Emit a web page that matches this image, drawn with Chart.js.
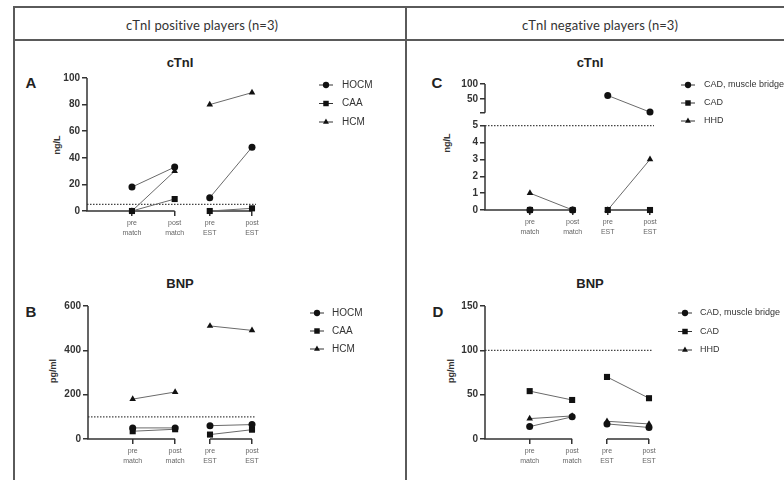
<!DOCTYPE html>
<html>
<head>
<meta charset="utf-8">
<script src="https://cdn.jsdelivr.net/npm/chart.js@4.4.0/dist/chart.umd.min.js"></script>
<style>
  html, body { margin: 0; padding: 0; background: #fff; }
  #fig { position: relative; width: 784px; height: 480px; overflow: hidden; font-family: "Liberation Sans", Arial, sans-serif; color: #222; }
  .rule { position: absolute; background: #5a5a5a; }
  .head { position: absolute; font-family: Lato, sans-serif; font-size: 13px; color: #333; transform: translate(-50%, -50%); white-space: nowrap; font-kerning: none; letter-spacing: 0.1px; }
  .ttl { position: absolute; font-weight: bold; font-size: 13px; color: #222; transform: translate(-50%, -50%); white-space: nowrap; }
  .let { position: absolute; font-weight: bold; font-size: 15px; color: #222; transform: translate(-50%, -50%); }
  .yt { position: absolute; font-weight: bold; font-size: 9px; color: #333; transform: translate(-50%, -50%) rotate(-90deg); white-space: nowrap; }
  canvas { position: absolute; }
</style>
</head>
<body>
<div id="fig">
  <div class="rule" style="left:13px;top:6px;width:771px;height:2px"></div>
  <div class="rule" style="left:13px;top:39px;width:771px;height:2px"></div>
  <div class="rule" style="left:13px;top:6px;width:2px;height:474px"></div>
  <div class="rule" style="left:405px;top:6px;width:2px;height:474px"></div>

  <div class="head" style="left:202px;top:25px">cTnI positive players (n=3)</div>
  <div class="head" style="left:600px;top:25px">cTnI negative players (n=3)</div>

  <div class="ttl" style="left:180px;top:62px">cTnI</div>
  <div class="ttl" style="left:590px;top:62px">cTnI</div>
  <div class="ttl" style="left:180px;top:283px">BNP</div>
  <div class="ttl" style="left:590px;top:283px">BNP</div>

  <div class="let" style="left:31px;top:82px">A</div>
  <div class="let" style="left:31px;top:311px">B</div>
  <div class="let" style="left:437px;top:82px">C</div>
  <div class="let" style="left:438px;top:311px">D</div>

  <div class="yt" style="left:57px;top:145px">ng/L</div>
  <div class="yt" style="left:53px;top:371px">pg/ml</div>
  <div class="yt" style="left:447px;top:143px">ng/L</div>
  <div class="yt" style="left:451px;top:371px">pg/ml</div>

  <canvas id="chartA" width="390" height="199" style="left:15px;top:41px"></canvas>
  <canvas id="chartB" width="390" height="239" style="left:15px;top:241px"></canvas>
  <canvas id="chartC" width="377" height="199" style="left:407px;top:41px"></canvas>
  <canvas id="chartD" width="377" height="239" style="left:407px;top:241px"></canvas>
</div>

<script>
// time points and where they sit on the x axis (two groups: match / EST)
const stages = [['pre', 'match'], ['post', 'match'], ['pre', 'EST'], ['post', 'EST']];
const stageX = [1, 1.95, 2.73, 3.67];
const stageGroups = [[0, 1], [2, 3]];

const posPlayers = ['HOCM', 'CAA', 'HCM'];
const negPlayers = ['CAD, muscle bridge', 'CAD', 'HHD'];

// A: cTnI, positive players (ng/L)
const ctniPosHOCM = [18, 33, 10, 48];
const ctniPosCAA = [0, 9, 0, 2];
const ctniPosHCM = [0, 30, 80, 89];
// B: BNP, positive players (pg/ml)
const bnpPosHOCM = [50, 50, 60, 65];
const bnpPosCAA = [35, 44, 20, 42];
const bnpPosHCM = [180, 212, 510, 490];
// C: cTnI, negative players (ng/L)
const ctniNegCADmb = [0, 0, 62, 7];
const ctniNegCAD = [0, 0, 0, 0];
const ctniNegHHD = [1, 0, 0, 3];
// D: BNP, negative players (pg/ml)
const bnpNegCADmb = [14, 25, 17, 13];
const bnpNegCAD = [54, 44, 70, 46];
const bnpNegHHD = [23, 26, 20, 17];

const ctniCutoff = 5;
const bnpCutoff = 100;

const ctniPosTicks = [0, 20, 40, 60, 80, 100];
const bnpPosTicks = [0, 200, 400, 600];
const ctniNegLowTicks = [0, 1, 2, 3, 4, 5];
const ctniNegHighTicks = [50, 100];
const bnpNegTicks = [0, 50, 100, 150];

const FONT = '"Liberation Sans", Arial, sans-serif';
const INK = '#333';
const LINK = '#6a6a6a';
const AXIS_W = 30;
const AXIS_H = 26;
const markers = ['circle', 'rect', 'triangle'];
const markerSize = [3.5, 4.3, 3.8];

function groupOf(i) {
  return stageGroups.findIndex(g => g.includes(i));
}

function points(vals, keep) {
  return vals.map((v, i) => ({ x: stageX[i], y: keep(v) ? v : null }));
}

function buildDatasets(p) {
  const out = [];
  p.series.forEach((vals, k) => {
    const base = {
      label: p.names[k],
      pointStyle: markers[k],
      pointRadius: markerSize[k],
      pointBackgroundColor: '#111',
      pointBorderWidth: 0,
      borderColor: LINK,
      borderWidth: 1,
      clip: false,
      spanGaps: false,
      segment: {
        borderColor: c => groupOf(c.p0DataIndex) === groupOf(c.p1DataIndex) ? LINK : 'rgba(0,0,0,0)'
      }
    };
    if (p.breakAt === undefined) {
      out.push({ ...base, yAxisID: 'y', data: points(vals, () => true) });
    } else {
      out.push({ ...base, yAxisID: 'y', data: points(vals, v => v <= p.breakAt) });
      out.push({ ...base, yAxisID: 'yHigh', inLegend: false, data: points(vals, v => v > p.breakAt) });
    }
  });
  return out;
}

function yScale(min, max, tickVals, extra) {
  return Object.assign({
    type: 'linear',
    position: 'left',
    min: min,
    max: max,
    afterBuildTicks: s => { s.ticks = tickVals.map(v => ({ value: v })); },
    afterFit: s => { s.width = AXIS_W; },
    grid: { drawOnChartArea: false, drawTicks: true, tickLength: 5, color: INK, lineWidth: 1.5 },
    border: { display: false },
    ticks: { color: INK, padding: 2, autoSkip: false, font: { family: FONT, size: 10, weight: 'bold' } }
  }, extra || {});
}

const xScale = {
  type: 'linear',
  min: 0,
  max: stageX[stageX.length - 1],
  afterBuildTicks: s => { s.ticks = stageX.map(v => ({ value: v })); },
  afterFit: s => { s.height = AXIS_H; },
  grid: { drawOnChartArea: false, drawTicks: true, tickLength: 5, color: INK, lineWidth: 1.5 },
  border: { display: false },
  ticks: {
    color: '#666', padding: 3, autoSkip: false, maxRotation: 0,
    font: { family: FONT, size: 7, lineHeight: 1.3 },
    callback: (v, i) => stages[i]
  }
};

// Prism-style axes: broken x axis per group, y axis per segment, dotted cutoff, line+marker legend
const prismPlugin = {
  id: 'prism',
  beforeDatasetsDraw(chart, args, opts) {
    const ctx = chart.ctx;
    const x = chart.scales.x;
    const base = chart.chartArea.bottom;
    ctx.save();

    const yRef = chart.scales.y.getPixelForValue(opts.cutoff);
    ctx.strokeStyle = '#444';
    ctx.lineWidth = 1.2;
    ctx.setLineDash([1.5, 1.5]);
    ctx.beginPath();
    ctx.moveTo(x.left, yRef);
    ctx.lineTo(x.right + 4, yRef);
    ctx.stroke();
    ctx.setLineDash([]);

    ctx.strokeStyle = INK;
    ctx.lineWidth = 1.5;
    ctx.beginPath();
    stageGroups.forEach((g, gi) => {
      const from = gi === 0 ? x.left : x.getPixelForValue(stageX[g[0]]);
      ctx.moveTo(from, base);
      ctx.lineTo(x.getPixelForValue(stageX[g[g.length - 1]]), base);
    });
    Object.values(chart.scales).forEach(s => {
      if (s.axis !== 'y') return;
      const lo = s.ticks[0].value;
      const hi = s.ticks[s.ticks.length - 1].value;
      ctx.moveTo(x.left, s.getPixelForValue(lo) + (lo === 0 ? 0.75 : 0));
      ctx.lineTo(x.left, s.getPixelForValue(hi));
    });
    ctx.stroke();
    ctx.restore();
  },
  afterDraw(chart, args, opts) {
    const ctx = chart.ctx;
    const lg = opts.legend;
    const ox = opts.origin.left;
    const oy = opts.origin.top;
    ctx.save();
    let row = 0;
    chart.data.datasets.forEach(ds => {
      if (ds.inLegend === false) return;
      const cx = lg.x - ox;
      const cy = lg.y + row * lg.dy - oy;
      ctx.strokeStyle = INK;
      ctx.lineWidth = 1;
      ctx.beginPath();
      ctx.moveTo(cx - 7, cy);
      ctx.lineTo(cx + 7, cy);
      ctx.stroke();
      ctx.fillStyle = '#111';
      Chart.helpers.drawPoint(ctx, { pointStyle: ds.pointStyle, radius: ds.pointRadius * 0.9, borderWidth: 0, rotation: 0 }, cx, cy);
      ctx.fillStyle = INK;
      ctx.font = lg.size + 'px ' + FONT;
      ctx.textBaseline = 'middle';
      ctx.fillText(ds.label, lg.textX - ox, cy);
      row++;
    });
    ctx.restore();
  }
};

const panels = [
  {
    id: 'chartA', box: { left: 15, top: 41, width: 390, height: 199 },
    area: { left: 87, top: 78, right: 252, bottom: 211 },
    names: posPlayers, series: [ctniPosHOCM, ctniPosCAA, ctniPosHCM], cutoff: ctniCutoff,
    y: yScale(0, 100, ctniPosTicks),
    legend: { x: 326, textX: 342, y: 85, dy: 18.5, size: 10 }
  },
  {
    id: 'chartB', box: { left: 15, top: 241, width: 390, height: 239 },
    area: { left: 88, top: 306, right: 252, bottom: 439 },
    names: posPlayers, series: [bnpPosHOCM, bnpPosCAA, bnpPosHCM], cutoff: bnpCutoff,
    y: yScale(0, 600, bnpPosTicks),
    legend: { x: 317, textX: 332, y: 313, dy: 18, size: 10 }
  },
  {
    id: 'chartC', box: { left: 407, top: 41, width: 377, height: 199 },
    area: { left: 485, top: 84, right: 650, bottom: 210 },
    names: negPlayers, series: [ctniNegCADmb, ctniNegCAD, ctniNegHHD], cutoff: ctniCutoff,
    breakAt: ctniCutoff,
    y: yScale(0, 5.386, ctniNegLowTicks, { stack: 'ctni', stackWeight: 90.8 }),
    yHigh: yScale(-16.5, 100, [ctniCutoff].concat(ctniNegHighTicks), {
      stack: 'ctni', stackWeight: 35.2
    }),
    legend: { x: 688, textX: 704, y: 85, dy: 18, size: 9 }
  },
  {
    id: 'chartD', box: { left: 407, top: 241, width: 377, height: 239 },
    area: { left: 485, top: 306, right: 649, bottom: 439 },
    names: negPlayers, series: [bnpNegCADmb, bnpNegCAD, bnpNegHHD], cutoff: bnpCutoff,
    y: yScale(0, 150, bnpNegTicks),
    legend: { x: 685, textX: 700, y: 313, dy: 18.5, size: 9 }
  }
];

panels.forEach(p => {
  const scales = { x: xScale, y: p.y };
  if (p.yHigh) {
    p.yHigh.ticks = Object.assign({}, p.yHigh.ticks, { callback: v => (v === p.breakAt ? '' : v) });
    scales.yHigh = p.yHigh;
  }
  new Chart(document.getElementById(p.id), {
    type: 'line',
    data: { datasets: buildDatasets(p) },
    options: {
      responsive: false,
      animation: false,
      events: [],
      layout: {
        padding: {
          left: p.area.left - p.box.left - AXIS_W,
          top: p.area.top - p.box.top,
          right: p.box.left + p.box.width - p.area.right,
          bottom: p.box.top + p.box.height - p.area.bottom - AXIS_H
        }
      },
      scales: scales,
      plugins: {
        legend: { display: false },
        tooltip: { enabled: false },
        prism: { cutoff: p.cutoff, legend: p.legend, origin: p.box }
      }
    },
    plugins: [prismPlugin]
  });
});
</script>
</body>
</html>
